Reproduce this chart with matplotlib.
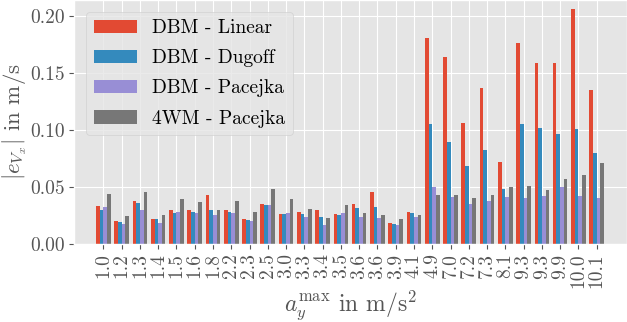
import matplotlib
matplotlib.use("Agg")
import matplotlib.pyplot as plt
import numpy as np
from matplotlib.ticker import FormatStrFormatter

categories = ["1.0", "1.2", "1.3", "1.4", "1.5", "1.6", "1.8", "2.2", "2.3", "2.5",
              "3.0", "3.3", "3.4", "3.5", "3.6", "3.6", "3.9", "4.1", "4.9", "7.0",
              "7.2", "7.3", "8.1", "9.3", "9.3", "9.9", "10.0", "10.1"]

dbm_linear = [0.033, 0.0197, 0.0376, 0.0215, 0.0297, 0.0294, 0.0426, 0.0294, 0.0215, 0.0347,
              0.0259, 0.0276, 0.0294, 0.0259, 0.0347, 0.0453, 0.0179, 0.0276, 0.1812, 0.1644,
              0.1062, 0.137, 0.0718, 0.1768, 0.1591, 0.1591, 0.2068, 0.1353]
dbm_dugoff = [0.030, 0.0188, 0.0356, 0.0215, 0.0268, 0.0276, 0.0294, 0.0276, 0.0206, 0.0338,
              0.0259, 0.0259, 0.0232, 0.025, 0.0312, 0.032, 0.0171, 0.0268, 0.1053, 0.0894,
              0.0682, 0.0824, 0.0479, 0.1053, 0.1018, 0.0965, 0.1009, 0.0797]
dbm_pacejka = [0.032, 0.017, 0.0294, 0.018, 0.0276, 0.0268, 0.025, 0.0268, 0.0197, 0.0338,
               0.0268, 0.0232, 0.0162, 0.0268, 0.0232, 0.0224, 0.0162, 0.0232, 0.0497, 0.0409,
               0.0347, 0.0374, 0.0409, 0.040, 0.0418, 0.0497, 0.0418, 0.040]
wm4_pacejka = [0.0435, 0.024, 0.0453, 0.025, 0.039, 0.0365, 0.0294, 0.0374, 0.0276, 0.048,
               0.039, 0.0303, 0.0224, 0.0338, 0.0268, 0.025, 0.0215, 0.025, 0.0426, 0.0426,
               0.040, 0.0426, 0.0497, 0.0506, 0.047, 0.0568, 0.0603, 0.0709]

series = [("DBM - Linear", dbm_linear, "#E24A33"),
          ("DBM - Dugoff", dbm_dugoff, "#348ABD"),
          ("DBM - Pacejka", dbm_pacejka, "#988ED5"),
          ("4WM - Pacejka", wm4_pacejka, "#777777")]

plt.style.use("ggplot")
plt.rcParams["font.family"] = ["cmr10", "DejaVu Serif"]
plt.rcParams["mathtext.fontset"] = "cm"
plt.rcParams["axes.unicode_minus"] = False
plt.rcParams["axes.formatter.use_mathtext"] = True

fig = plt.figure(figsize=(6.27, 3.22), dpi=100)
ax = fig.add_axes([74.3 / 627, 1 - 243.7 / 322, 1 - 74.3 / 627, 243.7 / 322])

x = np.arange(len(categories))
w = 0.2
for i, (name, vals, col) in enumerate(series):
    ax.bar(x + (i - 1.5) * w, vals, width=w, color=col, label=name)

ax.set_xticks(x)
ax.set_xticklabels(categories, rotation=90, fontsize=14, color="#555555")
ax.tick_params(axis="y", labelsize=14, labelcolor="#555555")
ax.yaxis.set_major_formatter(FormatStrFormatter("%.2f"))
ax.set_yticks([0, 0.05, 0.10, 0.15, 0.20])
ax.set_ylim(0, 0.2143)
ax.set_xlim(-1.59, 28.66)

ax.set_xlabel(r"$a_y^{\max}$ in m/s$^2$", fontsize=17, color="#555555", labelpad=0.5)
ax.set_ylabel(r"$|e_{V_x}|$ in m/s", fontsize=16.5, color="#555555", labelpad=0.5)

leg = ax.legend(loc="upper left", fontsize=14, handlelength=2.2, labelspacing=0.62,
                framealpha=0.8, borderaxespad=0.6)

fig.savefig("out.png", dpi=100)
